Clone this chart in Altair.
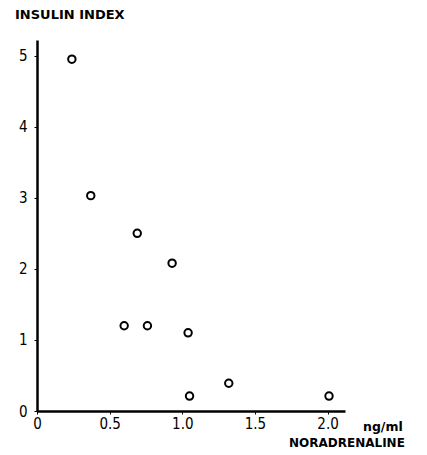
import altair as alt
import pandas as pd

noradrenaline = [0.24, 0.37, 0.60, 0.69, 0.76, 0.93, 1.04, 1.05, 1.32, 2.01]
insulin_index = [4.95, 3.03, 1.20, 2.50, 1.20, 2.08, 1.10, 0.21, 0.39, 0.21]
x_ticks = [0, 0.5, 1.0, 1.5, 2.0]
y_ticks = [0, 1, 2, 3, 4, 5]

df = pd.DataFrame({"x": noradrenaline, "y": insulin_index})

W, H = 308, 371
FONT = "DejaVu Sans Condensed"

points = alt.Chart(df).mark_point(
    shape="circle", filled=False, color="black", strokeWidth=2, size=55, opacity=1
).encode(
    x=alt.X("x:Q", scale=alt.Scale(domain=[0, 2.12], nice=False, zero=True),
            axis=alt.Axis(values=x_ticks, title=None, grid=False, domainWidth=2.5,
                          domainColor="black", tickColor="black", tickSize=3,
                          labelFont=FONT, labelFontSize=15, labelColor="black",
                          labelPadding=2, labelFlush=False,
                          labelExpr="datum.value == 0 ? '0' : format(datum.value, '.1f')")),
    y=alt.Y("y:Q", scale=alt.Scale(domain=[0, 5.22], nice=False),
            axis=alt.Axis(values=y_ticks, title=None, grid=False, domainWidth=2.5,
                          domainColor="black", tickColor="black", tickSize=3,
                          labelFont=FONT, labelFontSize=15, labelColor="black",
                          labelPadding=7, labelFlush=False)),
)

def label(txt, px, py, size, weight="bold"):
    return alt.Chart(pd.DataFrame({"t": [txt]})).mark_text(
        align="left", baseline="middle", font="DejaVu Sans", fontSize=size,
        fontWeight=weight, color="black"
    ).encode(x=alt.value(px), y=alt.value(py), text="t:N")

title = label("INSULIN INDEX", -22, -25, 13)
unit = label("ng/ml", 326, 387, 12.5)
xtitle = label("NORADRENALINE", 252, 403, 12)

chart = alt.layer(points, title, unit, xtitle).properties(
    width=W, height=H,
    autosize=alt.AutoSizeParams(type="none"),
    padding={"left": 29, "top": 32, "right": 74, "bottom": 40},
).configure(background="white").configure_view(stroke=None)

chart.save("out.html", embed_options={"renderer": "svg", "actions": False})
